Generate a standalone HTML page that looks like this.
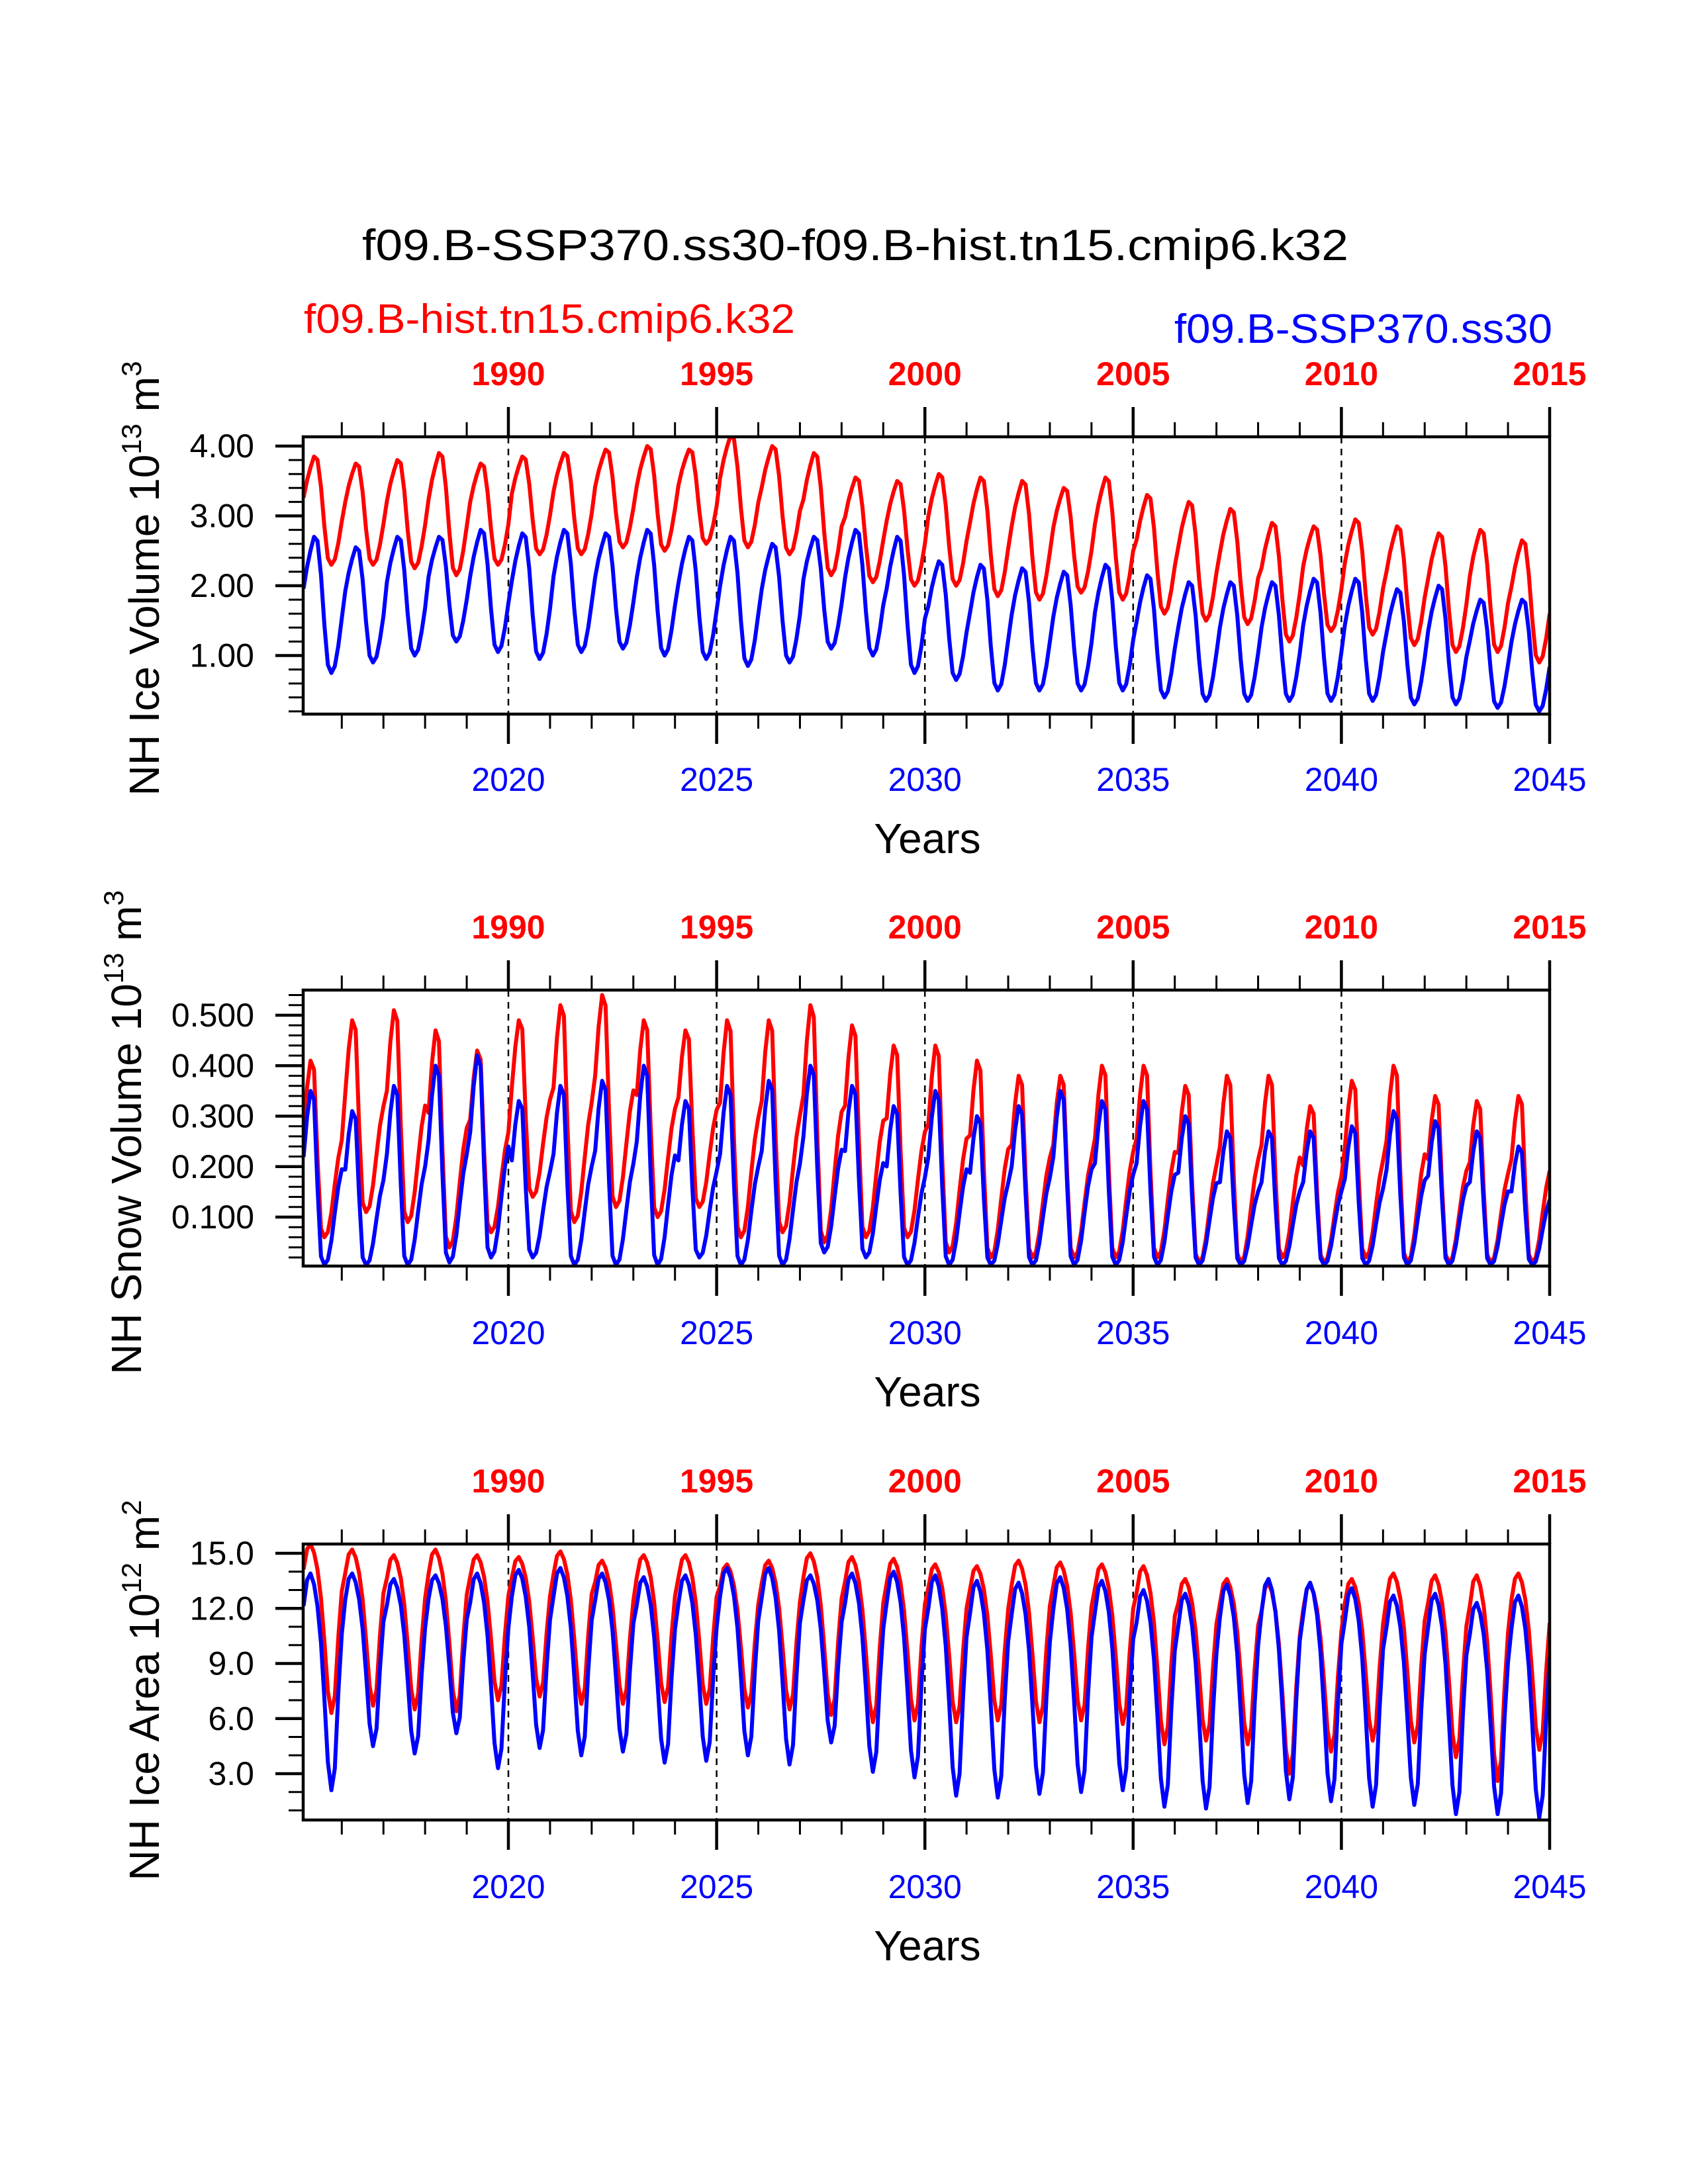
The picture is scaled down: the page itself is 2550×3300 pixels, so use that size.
<!DOCTYPE html>
<html><head><meta charset="utf-8"><style>
html,body{margin:0;padding:0;background:#fff}
svg{display:block;font-family:"Liberation Sans",sans-serif}
</style></head><body>
<svg id="fig" width="2550" height="3300" viewBox="0 0 2550 3300" xmlns="http://www.w3.org/2000/svg">
<text x="1292" y="393" font-size="66" text-anchor="middle" textLength="1490" lengthAdjust="spacingAndGlyphs">f09.B-SSP370.ss30-f09.B-hist.tn15.cmip6.k32</text>
<text x="459" y="503" font-size="62" fill="#ff0000" textLength="742" lengthAdjust="spacingAndGlyphs">f09.B-hist.tn15.cmip6.k32</text>
<text x="2345" y="518" font-size="62" fill="#0000ff" text-anchor="end" textLength="571" lengthAdjust="spacingAndGlyphs">f09.B-SSP370.ss30</text>
</svg>
<script>
const years = [2015,2016,2017,2018,2019,2020,2021,2022,2023,2024,2025,2026,2027,2028,2029,2030,2031,2032,2033,2034,2035,2036,2037,2038,2039,2040,2041,2042,2043,2044];
const topYearLabels = ["1990","1995","2000","2005","2010","2015"];
const bottomYearLabels = ["2020","2025","2030","2035","2040","2045"];

const iceVolRedMax = [3.85,3.75,3.8,3.9,3.75,3.85,3.9,3.95,4.0,3.95,4.15,4.0,3.9,3.55,3.5,3.6,3.55,3.5,3.4,3.55,3.3,3.2,3.1,2.9,2.85,2.95,2.85,2.75,2.8,2.65];
const iceVolRedMin = [2.3,2.3,2.25,2.15,2.3,2.45,2.45,2.55,2.5,2.6,2.55,2.45,2.15,2.05,2.0,2.0,1.85,1.8,1.9,1.8,1.6,1.5,1.45,1.2,1.35,1.3,1.15,1.05,1.05,0.9];
const iceVolBlueMax = [2.7,2.55,2.7,2.7,2.8,2.75,2.8,2.75,2.8,2.7,2.7,2.6,2.7,2.8,2.7,2.35,2.3,2.25,2.2,2.3,2.15,2.05,2.05,2.05,2.1,2.1,1.95,2.0,1.8,1.8];
const iceVolBlueMin = [0.75,0.9,1.0,1.2,1.05,0.95,1.05,1.1,1.0,0.95,0.85,0.9,1.1,1.0,0.75,0.65,0.5,0.5,0.5,0.5,0.4,0.35,0.35,0.35,0.35,0.35,0.3,0.3,0.25,0.2];
const iceVolShape = [0.62,0.78,0.9,1.0,0.97,0.72,0.35,0.06,0.0,0.05,0.2,0.4];

const snowRedMax = [0.41,0.49,0.51,0.47,0.43,0.49,0.52,0.54,0.49,0.47,0.49,0.49,0.52,0.48,0.44,0.44,0.41,0.38,0.38,0.40,0.40,0.36,0.38,0.38,0.32,0.37,0.40,0.34,0.33,0.34];
const snowRedMin = [0.06,0.11,0.09,0.04,0.07,0.14,0.09,0.12,0.10,0.12,0.06,0.07,0.05,0.06,0.06,0.03,0.02,0.02,0.02,0.02,0.02,0.01,0.01,0.02,0.01,0.02,0.01,0.01,0.01,0.01];
const snowBlueMax = [0.35,0.31,0.36,0.40,0.42,0.33,0.36,0.37,0.40,0.33,0.36,0.37,0.40,0.36,0.32,0.35,0.30,0.32,0.35,0.33,0.33,0.30,0.27,0.27,0.27,0.28,0.31,0.29,0.27,0.24];
const snowBlueMin = [0.005,0.005,0.005,0.01,0.02,0.02,0.005,0.005,0.005,0.02,0.005,0.005,0.03,0.02,0.005,0.005,0.005,0.005,0.005,0.005,0.005,0.005,0.005,0.005,0.005,0.005,0.005,0.005,0.005,0.005];
const snowShape = [0.62,0.85,1.0,0.95,0.45,0.05,0.0,0.03,0.14,0.3,0.45,0.55];

const areaRedMax = [15.5,15.2,14.9,15.2,14.9,14.8,15.1,14.6,14.9,14.9,14.4,14.6,15.0,14.8,14.7,14.4,14.3,14.6,14.5,14.4,14.3,13.6,13.6,13.4,13.3,13.6,13.9,13.8,13.8,13.9];
const areaRedMin = [6.3,6.7,6.5,6.4,7.0,7.2,6.8,6.8,6.9,6.8,6.6,6.5,6.2,5.8,5.9,5.8,5.9,5.8,5.9,5.7,4.6,4.8,4.6,3.0,4.2,4.8,4.7,3.9,2.6,4.3];
const areaBlueMax = [13.9,13.9,13.6,13.8,13.9,14.1,14.2,13.9,13.7,13.8,14.2,14.2,13.8,13.9,14.0,13.8,13.5,13.4,13.7,13.5,13.0,12.8,13.3,13.6,13.4,13.1,12.7,12.8,12.3,12.7];
const areaBlueMin = [2.1,4.5,4.1,5.2,3.3,4.4,4.0,4.2,3.6,3.7,4.0,3.5,4.7,3.1,2.8,1.8,1.7,1.9,2.0,2.1,1.2,1.1,1.4,1.6,1.5,1.2,1.3,0.8,0.8,0.6];
const areaShape = [0.85,0.97,1.0,0.95,0.85,0.68,0.42,0.13,0.0,0.1,0.45,0.72];

const panel1Ticks = ["1.00","2.00","3.00","4.00"];
const panel2Ticks = ["0.100","0.200","0.300","0.400","0.500"];
const panel3Ticks = ["3.0","6.0","9.0","12.0","15.0"];

const NS = "http://www.w3.org/2000/svg";
const svg = document.getElementById("fig");
const X0 = 458, X1 = 2341;
function xScale(t){ return 768 + (t - 2020) * ((X1 - 768) / 25); }
function mk(tag, attrs, parent){ const e = document.createElementNS(NS, tag); for (const k in attrs) e.setAttribute(k, attrs[k]); (parent||svg).appendChild(e); return e; }

const panels = [
  {key:"ice-volume", top:660, bot:1079, yRef:674, vTop:4.0, pxPer:105.5, tickVals:[1,2,3,4], tickLabels:panel1Ticks, minorStep:0.2, minorMin:0.2, minorMax:4.0,
   red:[iceVolRedMax,iceVolRedMin], blue:[iceVolBlueMax,iceVolBlueMin], shape:iceVolShape, title:["NH Ice Volume 10","13"," m","3"], tx:217, ty:874},
  {key:"snow-volume", top:1496, bot:1913, yRef:1534, vTop:0.5, pxPer:762.5, tickVals:[0.1,0.2,0.3,0.4,0.5], tickLabels:panel2Ticks, minorStep:0.02, minorMin:0.02, minorMax:0.54,
   red:[snowRedMax,snowRedMin], blue:[snowBlueMax,snowBlueMin], shape:snowShape, title:["NH Snow Volume 10","13"," m","3"], tx:190, ty:1711},
  {key:"ice-area", top:2333, bot:2750, yRef:2347, vTop:15.0, pxPer:27.75, tickVals:[3,6,9,12,15], tickLabels:panel3Ticks, minorStep:1, minorMin:1, minorMax:15,
   red:[areaRedMax,areaRedMin], blue:[areaBlueMax,areaBlueMin], shape:areaShape, title:["NH Ice Area 10","12"," m","2"], tx:217, ty:2554}
];

panels.forEach((p, pi) => {
  const off = p.top - 660;
  const yScale = v => p.yRef + (p.vTop - v) * p.pxPer;
  const g = mk("g", {});
  
  

  const cp = mk("clipPath", {id:"clip"+pi}, g);
  mk("rect", {x:X0, y:p.top, width:X1-X0, height:p.bot-p.top}, cp);

  [2020,2025,2030,2035,2040].forEach(yr => {
    const l = mk("line", {x1:xScale(yr), x2:xScale(yr), y1:p.top, y2:p.bot, stroke:"#000", "stroke-width":2.5, "stroke-dasharray":"10,8"}, g);
    
    
  });

  const series = [["red","#ff0000",p.red],["blue","#0000ff",p.blue]];
  series.forEach(([nm,col,arr]) => {
    let d = "";
    years.forEach((yr, i) => {
      for (let m = 0; m < 12; m++) {
        const v = arr[1][i] + p.shape[m] * (arr[0][i] - arr[1][i]);
        const x = xScale(yr + (m + 1) / 12), y = yScale(v);
        d += (d ? "L" : "M") + x.toFixed(1) + "," + y.toFixed(1);
      }
    });
    const path = mk("path", {d:d, fill:"none", stroke:col, "stroke-width":6, "stroke-linejoin":"round", "clip-path":"url(#clip"+pi+")"}, g);
    
    
  });

  const box = mk("rect", {x:X0, y:p.top, width:X1-X0, height:p.bot-p.top, fill:"none", stroke:"#000", "stroke-width":4.5}, g);
  
  

  for (let yr = 2016; yr <= 2045; yr++) {
    const x = xScale(yr), major = (yr % 5 === 0);
    const len = major ? 45 : 22, w = major ? 4.5 : 3;
    mk("line", {x1:x, x2:x, y1:p.top, y2:p.top-len, stroke:"#000", "stroke-width":w}, g);
    mk("line", {x1:x, x2:x, y1:p.bot, y2:p.bot+len, stroke:"#000", "stroke-width":w}, g);
  }
  topYearLabels.forEach((lab, i) => {
    const t = mk("text", {x:xScale(2020 + 5*i), y:582 + off, "font-size":50, "font-weight":"bold", fill:"#ff0000", "text-anchor":"middle"}, g);
    t.textContent = lab;
    
    
  });
  bottomYearLabels.forEach((lab, i) => {
    const t = mk("text", {x:xScale(2020 + 5*i), y:1195 + off, "font-size":50, fill:"#0000ff", "text-anchor":"middle"}, g);
    t.textContent = lab;
    
    
  });
  const xt = mk("text", {x:1401, y:1289 + off, "font-size":64, "text-anchor":"middle"}, g);
  xt.textContent = "Years";
  
  

  const nMin = Math.round((p.minorMax - p.minorMin) / p.minorStep);
  for (let k = 0; k <= nMin; k++) {
    const v = p.minorMin + k * p.minorStep;
    const y = yScale(v);
    if (y < p.top - 1 || y > p.bot + 1) continue;
    mk("line", {x1:X0, x2:X0-22, y1:y, y2:y, stroke:"#000", "stroke-width":3}, g);
  }
  p.tickVals.forEach((v, i) => {
    const y = yScale(v);
    mk("line", {x1:X0, x2:X0-42, y1:y, y2:y, stroke:"#000", "stroke-width":4.5}, g);
    const t = mk("text", {x:384, y:y+17, "font-size":50, "text-anchor":"end"}, g);
    t.textContent = p.tickLabels[i];
    
    
  });

  const yt = mk("text", {x:0, y:0, "font-size":64, "text-anchor":"middle", transform:"translate("+(p.tx+23)+","+p.ty+") rotate(-90)"}, g);
  
  
  const parts = p.title;
  const a = mk("tspan", {}, yt); a.textContent = parts[0];
  const b = mk("tspan", {"font-size":42, dy:-27}, yt); b.textContent = parts[1];
  const c = mk("tspan", {dy:27}, yt); c.textContent = parts[2];
  const d2 = mk("tspan", {"font-size":42, dy:-27}, yt); d2.textContent = parts[3];
});
</script>
</body></html>
